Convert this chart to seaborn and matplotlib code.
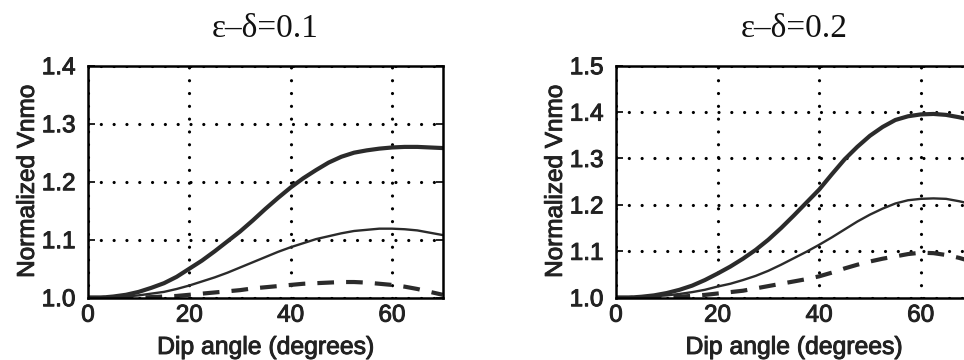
import matplotlib
matplotlib.use("Agg")
import matplotlib.pyplot as plt
import matplotlib.patheffects as pe
import seaborn as sns
import pandas as pd

dip = [0, 2.5, 5, 7.5, 10, 12.5, 15, 17.5, 20, 22.5, 25, 27.5, 30, 32.5, 35,
       37.5, 40, 42.5, 45, 47.5, 50, 52.5, 55, 57.5, 60, 62.5, 65, 67.5, 70]

titles = ["ε–δ=0.1", "ε–δ=0.2"]
ylims = [(1.0, 1.4), (1.0, 1.5)]
yticks_list = [[1.0, 1.1, 1.2, 1.3, 1.4], [1.0, 1.1, 1.2, 1.3, 1.4, 1.5]]
xticks = [0, 20, 40, 60]

# panel 1 (eps-delta = 0.1)
p1_solid = [1.000, 1.000, 1.002, 1.005, 1.010, 1.017, 1.025, 1.036, 1.050, 1.064,
            1.080, 1.097, 1.114, 1.133, 1.153, 1.172, 1.190, 1.206, 1.220, 1.233,
            1.243, 1.250, 1.254, 1.257, 1.259, 1.260, 1.260, 1.259, 1.258]
p1_thin = [1.000, 1.000, 1.001, 1.002, 1.004, 1.007, 1.010, 1.015, 1.021, 1.028,
           1.035, 1.043, 1.052, 1.061, 1.070, 1.079, 1.087, 1.094, 1.101, 1.106,
           1.111, 1.115, 1.117, 1.119, 1.119, 1.118, 1.116, 1.112, 1.108]
p1_dash = [1.000, 1.000, 1.000, 1.000, 1.000, 1.001, 1.002, 1.003, 1.005, 1.007,
           1.009, 1.011, 1.013, 1.016, 1.018, 1.020, 1.022, 1.024, 1.025, 1.026,
           1.027, 1.027, 1.026, 1.024, 1.022, 1.019, 1.015, 1.010, 1.005]
# panel 2 (eps-delta = 0.2)
p2_solid = [1.000, 1.000, 1.002, 1.005, 1.010, 1.017, 1.026, 1.038, 1.052, 1.067,
            1.084, 1.103, 1.125, 1.150, 1.177, 1.205, 1.233, 1.266, 1.298, 1.325,
            1.349, 1.368, 1.383, 1.391, 1.395, 1.396, 1.394, 1.389, 1.383]
p2_thin = [1.000, 1.000, 1.001, 1.003, 1.005, 1.008, 1.012, 1.017, 1.024, 1.030,
           1.038, 1.047, 1.058, 1.071, 1.085, 1.099, 1.114, 1.130, 1.147, 1.164,
           1.179, 1.192, 1.203, 1.210, 1.213, 1.214, 1.213, 1.208, 1.202]
p2_dash = [1.000, 1.000, 1.000, 1.000, 1.001, 1.002, 1.004, 1.006, 1.009, 1.012,
           1.015, 1.020, 1.025, 1.030, 1.035, 1.040, 1.046, 1.054, 1.063, 1.071,
           1.078, 1.084, 1.089, 1.094, 1.097, 1.096, 1.092, 1.086, 1.078]

panels = [(p1_solid, p1_thin, p1_dash), (p2_solid, p2_thin, p2_dash)]

sns.set_style("white")
plt.rcParams['font.family'] = ['Liberation Sans', 'DejaVu Sans']

fig = plt.figure(figsize=(9.64, 3.6), dpi=100)
positions = [[0.0913, 0.1731, 0.3679, 0.6444], [0.6390, 0.1731, 0.3688, 0.6444]]
ink = "#2b2b2b"
heavy = [pe.withStroke(linewidth=0.7, foreground="#222222")]

for i, (pos, (s, t, d)) in enumerate(zip(positions, panels)):
    ax = fig.add_axes(pos)
    df = pd.DataFrame({"dip": dip, "solid": s, "thin": t, "dash": d})
    sns.lineplot(data=df, x="dip", y="solid", ax=ax, color=ink, lw=3.0)
    sns.lineplot(data=df, x="dip", y="thin", ax=ax, color=ink, lw=1.7)
    sns.lineplot(data=df, x="dip", y="dash", ax=ax, color=ink, lw=3.0,
                 linestyle=(0, (4.0, 2.9)))
    ax.set_xlim(0, 70)
    ax.set_ylim(*ylims[i])
    ax.set_xticks(xticks)
    ax.set_yticks(yticks_list[i])
    ax.set_yticklabels([f"{v:.1f}" for v in yticks_list[i]])
    ax.grid(True, color="black", linewidth=2.3, linestyle=(0, (0.01, 4.0)))
    for ln in ax.get_xgridlines() + ax.get_ygridlines():
        ln.set_dash_capstyle("round")
    for sp in ax.spines.values():
        sp.set_linewidth(1.8)
        sp.set_color("black")
    ax.tick_params(axis="both", direction="in", length=5, width=1.4,
                   labelsize=17.5, colors="#222222")
    ax.tick_params(axis="y", right=True, left=True, pad=9)
    ax.tick_params(axis="x", pad=5)
    ax.set_xlabel("Dip angle (degrees)", fontsize=17.8, labelpad=6, color="#222222")
    ax.set_ylabel("Normalized Vnmo", fontsize=17.5, labelpad=2, color="#222222")
    ax.set_title(titles[i], fontsize=24, family=["Liberation Serif", "DejaVu Serif"],
                 pad=21, color="#111111")
    for lab in ax.get_xticklabels() + ax.get_yticklabels() + [ax.xaxis.label, ax.yaxis.label]:
        lab.set_path_effects(heavy)

fig.savefig("out.png", dpi=100)
